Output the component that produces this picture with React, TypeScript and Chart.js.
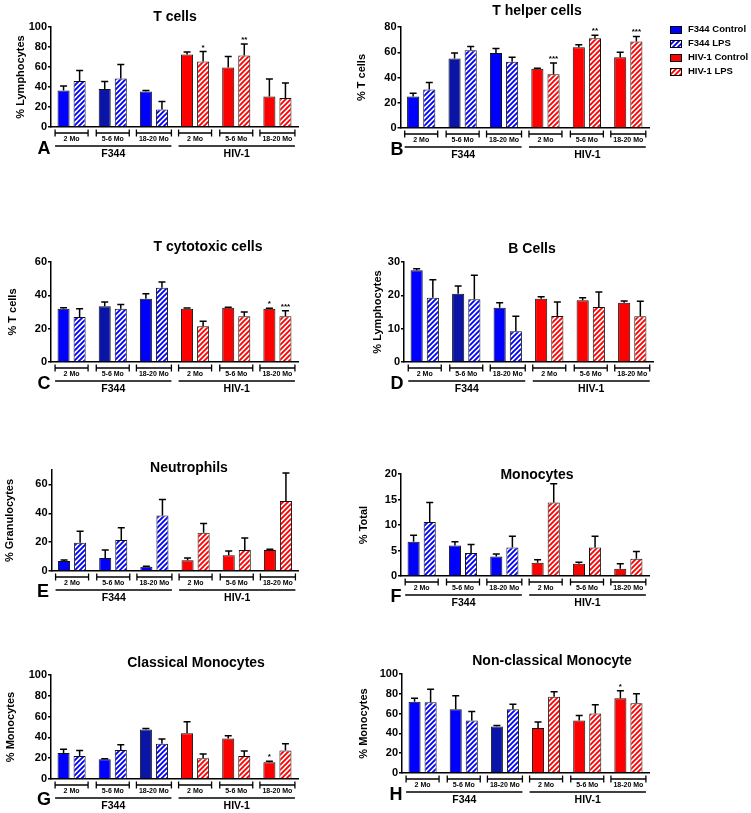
import React, { useEffect, useRef } from "react";
import { Chart, registerables } from "chart.js";

Chart.register(...registerables);

// ---------- shared categories ----------
const ageGroups = ["2 Mo", "5-6 Mo", "18-20 Mo", "2 Mo", "5-6 Mo", "18-20 Mo"];
const strains = ["F344", "HIV-1"];
const seriesNames = ["F344 Control", "F344 LPS", "HIV-1 Control", "HIV-1 LPS"];
const noSig = ["", "", "", "", "", ""];

// ---------- A: T cells (% Lymphocytes) ----------
const tCellControl = [36.5, 38, 35.5, 72.5, 59.5, 30.5];
const tCellControlSem = [4.5, 7.5, 1, 2.5, 11, 17.5];
const tCellLps = [46, 48.5, 17.5, 65.5, 71.5, 29];
const tCellLpsSem = [10.5, 14, 8, 10, 11.5, 15];
const tCellLpsSig = ["", "", "", "*", "**", ""];

// ---------- B: T helper cells (% T cells) ----------
const tHelperControl = [25, 55, 59.5, 47, 64, 56];
const tHelperControlSem = [2.5, 4.5, 3.5, 0.3, 2, 4];
const tHelperLps = [30.5, 61.5, 52.5, 42.5, 71, 68.5];
const tHelperLpsSem = [5.5, 3, 3.5, 9, 2.5, 4];
const tHelperLpsSig = ["", "", "", "***", "**", "***"];

// ---------- C: T cytotoxic cells (% T cells) ----------
const tCytoControl = [32, 33.5, 38, 32, 32.5, 32];
const tCytoControlSem = [0.6, 2.5, 3, 0.4, 0.4, 0.3];
const tCytoLps = [27, 32, 44.5, 21.5, 27.5, 27.5];
const tCytoLpsSem = [5, 2.5, 3.5, 3, 2.5, 3.2];
const tCytoControlSig = ["", "", "", "", "", "*"];
const tCytoLpsSig = ["", "", "", "", "", "***"];

// ---------- D: B cells (% Lymphocytes) ----------
const bCellControl = [27.5, 20.5, 16.3, 19, 18.5, 17.8];
const bCellControlSem = [0.5, 2.3, 1.5, 0.6, 0.8, 0.5];
const bCellLps = [19.3, 18.8, 9.2, 13.8, 16.5, 13.7];
const bCellLpsSem = [5.4, 7.2, 4.5, 4.2, 4.5, 4.5];

// ---------- E: Neutrophils (% Granulocytes) ----------
const neutroControl = [7, 9, 3, 7.5, 11, 14.5];
const neutroControlSem = [0.6, 5.5, 0.3, 1.5, 2.8, 0.6];
const neutroLps = [19.5, 21.5, 38.5, 26.5, 14.5, 48.5];
const neutroLpsSem = [8, 8.5, 11, 6.5, 8.3, 19.5];

// ---------- F: Monocytes (% Total) ----------
const monoControl = [6.7, 6, 3.8, 2.6, 2.4, 1.4];
const monoControlSem = [1.3, 0.7, 0.5, 0.6, 0.3, 1];
const monoLps = [10.6, 4.5, 5.6, 14.4, 5.6, 3.4];
const monoLpsSem = [3.8, 1.7, 2.2, 3.7, 2.2, 1.4];

// ---------- G: Classical Monocytes (% Monocytes) ----------
const classicalControl = [25, 19, 47.5, 44, 39, 16];
const classicalControlSem = [3.5, 0.5, 1, 11, 2.5, 1];
const classicalLps = [22, 28, 34, 20, 22, 27.5];
const classicalLpsSem = [5.5, 5, 4.5, 4, 5, 6.5];
const classicalControlSig = ["", "", "", "", "", "*"];

// ---------- H: Non-classical Monocyte (% Monocytes) ----------
const nonClassicalControl = [72, 64.5, 47, 45.5, 53, 75.5];
const nonClassicalControlSem = [3.5, 13.5, 1, 6, 5, 7.5];
const nonClassicalLps = [71.5, 53, 64.5, 77, 60, 70.5];
const nonClassicalLpsSem = [13, 9, 5, 5, 9, 9.5];
const nonClassicalControlSig = ["", "", "", "", "", "*"];

// ---------- styles ----------
const BLUE = "#0000ff";
const NAVY = "#0a14a6";
const RED = "#ff0000";
const FONT = "'Liberation Sans', Arial, Helvetica, sans-serif";
Chart.defaults.font.family = FONT;

type PanelDef = {
  letter: string;
  title: string;
  yTitle: string;
  control: number[];
  controlSem: number[];
  controlSig: string[];
  lps: number[];
  lpsSem: number[];
  lpsSig: string[];
  yMax: number;
  yStep: number;
  canvas: [number, number, number, number]; // x, y, w, h (page)
  area: [number, number, number, number]; // left, top, right, bottom (page)
  titlePos: [number, number];
  yTitleX: number;
  letterPos: [number, number];
  darkControl: number[];
  legend?: boolean;
};

const LEFT_CANVAS_X = 0;
const LEFT_CANVAS_W = 372;
const RIGHT_CANVAS_X = 340;
const RIGHT_CANVAS_W = 411;

const panels: PanelDef[] = [
  {
    letter: "A", title: "T cells", yTitle: "% Lymphocytes",
    control: tCellControl, controlSem: tCellControlSem, controlSig: noSig,
    lps: tCellLps, lpsSem: tCellLpsSem, lpsSig: tCellLpsSig,
    yMax: 100, yStep: 20,
    canvas: [LEFT_CANVAS_X, 0, LEFT_CANVAS_W, 170], area: [51, 27, 298, 127],
    titlePos: [175, 17], yTitleX: 21, letterPos: [44, 149], darkControl: [1],
  },
  {
    letter: "B", title: "T helper cells", yTitle: "% T cells",
    control: tHelperControl, controlSem: tHelperControlSem, controlSig: noSig,
    lps: tHelperLps, lpsSem: tHelperLpsSem, lpsSig: tHelperLpsSig,
    yMax: 80, yStep: 20,
    canvas: [RIGHT_CANVAS_X, 0, RIGHT_CANVAS_W, 170], area: [400.5, 27, 649, 128],
    titlePos: [537, 11], yTitleX: 362, letterPos: [397, 150], darkControl: [1],
    legend: true,
  },
  {
    letter: "C", title: "T cytotoxic cells", yTitle: "% T cells",
    control: tCytoControl, controlSem: tCytoControlSem, controlSig: tCytoControlSig,
    lps: tCytoLps, lpsSem: tCytoLpsSem, lpsSig: tCytoLpsSig,
    yMax: 60, yStep: 20,
    canvas: [LEFT_CANVAS_X, 225, LEFT_CANVAS_W, 180], area: [51, 262, 298, 362],
    titlePos: [208, 247], yTitleX: 13, letterPos: [44, 384], darkControl: [1],
  },
  {
    letter: "D", title: "B Cells", yTitle: "% Lymphocytes",
    control: bCellControl, controlSem: bCellControlSem, controlSig: noSig,
    lps: bCellLps, lpsSem: bCellLpsSem, lpsSig: noSig,
    yMax: 30, yStep: 10,
    canvas: [RIGHT_CANVAS_X, 225, RIGHT_CANVAS_W, 180], area: [404, 262, 653, 362],
    titlePos: [532, 249], yTitleX: 378, letterPos: [397, 384], darkControl: [1],
  },
  {
    letter: "E", title: "Neutrophils", yTitle: "% Granulocytes",
    control: neutroControl, controlSem: neutroControlSem, controlSig: noSig,
    lps: neutroLps, lpsSem: neutroLpsSem, lpsSig: noSig,
    yMax: 70, yStep: 20,
    canvas: [LEFT_CANVAS_X, 445, LEFT_CANVAS_W, 170], area: [51.5, 470, 298.5, 571],
    titlePos: [189, 468], yTitleX: 10, letterPos: [43, 592], darkControl: [],
  },
  {
    letter: "F", title: "Monocytes", yTitle: "% Total",
    control: monoControl, controlSem: monoControlSem, controlSig: noSig,
    lps: monoLps, lpsSem: monoLpsSem, lpsSig: noSig,
    yMax: 20, yStep: 5,
    canvas: [RIGHT_CANVAS_X, 445, RIGHT_CANVAS_W, 170], area: [401, 474, 649, 576],
    titlePos: [537, 475], yTitleX: 364, letterPos: [396, 597], darkControl: [],
  },
  {
    letter: "G", title: "Classical Monocytes", yTitle: "% Monocytes",
    control: classicalControl, controlSem: classicalControlSem, controlSig: classicalControlSig,
    lps: classicalLps, lpsSem: classicalLpsSem, lpsSig: noSig,
    yMax: 100, yStep: 20,
    canvas: [LEFT_CANVAS_X, 640, LEFT_CANVAS_W, 173], area: [51, 675, 298, 779],
    titlePos: [196, 663], yTitleX: 11, letterPos: [44, 800], darkControl: [2],
  },
  {
    letter: "H", title: "Non-classical Monocyte", yTitle: "% Monocytes",
    control: nonClassicalControl, controlSem: nonClassicalControlSem, controlSig: nonClassicalControlSig,
    lps: nonClassicalLps, lpsSem: nonClassicalLpsSem, lpsSig: noSig,
    yMax: 100, yStep: 20,
    canvas: [RIGHT_CANVAS_X, 640, RIGHT_CANVAS_W, 173], area: [402, 674, 649, 773],
    titlePos: [552, 661], yTitleX: 364, letterPos: [396, 795], darkControl: [2],
  },
];

function makeHatch(target: CanvasRenderingContext2D, color: string): CanvasPattern {
  const s = 5;
  const tile = document.createElement("canvas");
  tile.width = s;
  tile.height = s;
  const g = tile.getContext("2d")!;
  g.fillStyle = "#ffffff";
  g.fillRect(0, 0, s, s);
  g.strokeStyle = color;
  g.lineWidth = 1.9;
  g.beginPath();
  g.moveTo(0, s);
  g.lineTo(s, 0);
  g.moveTo(-1, 1);
  g.lineTo(1, -1);
  g.moveTo(s - 1, s + 1);
  g.lineTo(s + 1, s - 1);
  g.stroke();
  return target.createPattern(tile, "repeat")!;
}

function Panel({ def }: { def: PanelDef }) {
  const ref = useRef<HTMLCanvasElement>(null);

  useEffect(() => {
    const canvas = ref.current!;
    const ctx0 = canvas.getContext("2d")!;
    const bluePat = makeHatch(ctx0, BLUE);
    const redPat = makeHatch(ctx0, RED);
    const [cx, cy, cw, ch] = def.canvas;
    const [aL, aT, aR, aB] = def.area;
    const Y_AXIS_W = 40;

    const controlColors = def.control.map((_, i) =>
      i < 3 ? (def.darkControl.includes(i) ? NAVY : BLUE) : RED
    );
    const lpsColors = def.lps.map((_, i) => (i < 3 ? bluePat : redPat));

    const decor = {
      id: "panelDecor",
      afterDatasetsDraw(chart: any) {
        const ctx: CanvasRenderingContext2D = chart.ctx;
        const ys = chart.scales.y;
        chart.data.datasets.forEach((ds: any, di: number) => {
          const meta = chart.getDatasetMeta(di);
          meta.data.forEach((bar: any, i: number) => {
            const v = ds.data[i];
            const top = ys.getPixelForValue(v + ds.sem[i]);
            ctx.save();
            ctx.strokeStyle = "#000";
            ctx.lineWidth = 1.5;
            ctx.beginPath();
            ctx.moveTo(bar.x, bar.y);
            ctx.lineTo(bar.x, top);
            ctx.moveTo(bar.x - 3.5, top);
            ctx.lineTo(bar.x + 3.5, top);
            ctx.stroke();
            const sig = ds.sig[i];
            if (sig) {
              ctx.fillStyle = "#000";
              ctx.font = `bold 8px ${FONT}`;
              ctx.textAlign = "center";
              ctx.textBaseline = "alphabetic";
              ctx.fillText(sig, bar.x, top - 2);
            }
            ctx.restore();
          });
        });
      },
      afterDraw(chart: any) {
        const ctx: CanvasRenderingContext2D = chart.ctx;
        const xs = chart.scales.x;
        const bottom = chart.chartArea.bottom;
        ctx.save();
        ctx.fillStyle = "#000";
        ctx.strokeStyle = "#000";

        // title
        ctx.font = `bold 14px ${FONT}`;
        ctx.textAlign = "center";
        ctx.textBaseline = "middle";
        ctx.fillText(def.title, def.titlePos[0] - cx, def.titlePos[1] - cy);

        // y title
        ctx.save();
        ctx.translate(def.yTitleX - cx, (chart.chartArea.top + bottom) / 2);
        ctx.rotate(-Math.PI / 2);
        ctx.font = `bold 11px ${FONT}`;
        ctx.fillText(def.yTitle, 0, 0);
        ctx.restore();

        // age brackets
        const hws: number[] = [];
        ageGroups.forEach((lab, i) => {
          const px = xs.getPixelForValue(i);
          const hw = lab.length > 6 ? 17.5 : 16.5;
          hws.push(hw);
          const yb = bottom + 6;
          ctx.lineWidth = 1.3;
          ctx.beginPath();
          ctx.moveTo(px - hw, yb);
          ctx.lineTo(px + hw, yb);
          ctx.moveTo(px - hw, yb - 3.5);
          ctx.lineTo(px - hw, yb + 3.5);
          ctx.moveTo(px + hw, yb - 3.5);
          ctx.lineTo(px + hw, yb + 3.5);
          ctx.stroke();
          ctx.font = `bold 7px ${FONT}`;
          ctx.textBaseline = "middle";
          ctx.fillText(lab, px, bottom + 12.5);
        });

        // strain lines
        strains.forEach((name, s) => {
          const x1 = xs.getPixelForValue(s * 3) - hws[s * 3];
          const x2 = xs.getPixelForValue(s * 3 + 2) + hws[s * 3 + 2];
          ctx.lineWidth = 1.5;
          ctx.beginPath();
          ctx.moveTo(x1, bottom + 19);
          ctx.lineTo(x2, bottom + 19);
          ctx.stroke();
          ctx.font = `bold 10.5px ${FONT}`;
          ctx.fillText(name, (x1 + x2) / 2, bottom + 27);
        });

        // panel letter
        ctx.font = `bold 18px ${FONT}`;
        ctx.textBaseline = "middle";
        ctx.fillText(def.letter, def.letterPos[0] - cx, def.letterPos[1] - cy);

        // legend
        if (def.legend) {
          const fills: (string | CanvasPattern)[] = [BLUE, bluePat, RED, redPat];
          seriesNames.forEach((name, k) => {
            const ty = 29 + k * 14 - cy;
            ctx.fillStyle = fills[k] as any;
            ctx.fillRect(670 - cx, ty - 3, 12, 8);
            ctx.lineWidth = 1;
            ctx.strokeStyle = "#000";
            ctx.strokeRect(670.5 - cx, ty - 2.5, 11, 7);
            ctx.fillStyle = "#000";
            ctx.font = `bold 9.5px ${FONT}`;
            ctx.textAlign = "left";
            ctx.textBaseline = "middle";
            ctx.fillText(name, 688 - cx, ty);
          });
        }
        ctx.restore();
      },
    };

    const chart = new Chart(canvas, {
      type: "bar",
      data: {
        labels: ageGroups.map((a, i) => `${strains[Math.floor(i / 3)]} ${a}`),
        datasets: [
          {
            label: "Control",
            data: def.control,
            sem: def.controlSem,
            sig: def.controlSig,
            backgroundColor: controlColors,
            borderColor: "#111",
            borderWidth: 1,
            borderSkipped: "bottom",
            categoryPercentage: 0.78,
            barPercentage: 0.75,
          } as any,
          {
            label: "LPS",
            data: def.lps,
            sem: def.lpsSem,
            sig: def.lpsSig,
            backgroundColor: lpsColors,
            borderColor: "#111",
            borderWidth: 1,
            borderSkipped: "bottom",
            categoryPercentage: 0.78,
            barPercentage: 0.75,
          } as any,
        ],
      },
      options: {
        responsive: false,
        animation: false,
        devicePixelRatio: 1,
        events: [],
        layout: {
          padding: {
            left: aL - cx - Y_AXIS_W,
            right: cx + cw - aR,
            top: aT - cy,
            bottom: cy + ch - aB,
          },
        },
        plugins: {
          legend: { display: false },
          title: { display: false },
          tooltip: { enabled: false },
        },
        scales: {
          x: {
            type: "category",
            offset: true,
            grid: { display: false },
            ticks: { display: false },
            border: { display: true, color: "#000", width: 1.5 },
            afterFit: (s: any) => {
              s.height = 0;
            },
          },
          y: {
            min: 0,
            max: def.yMax,
            ticks: {
              stepSize: def.yStep,
              color: "#000",
              padding: 1,
              font: { family: FONT, size: 11, weight: "bold" },
              callback: (v: any) => (Number(v) % def.yStep === 0 ? String(v) : null),
            },
            grid: {
              display: true,
              drawOnChartArea: false,
              drawTicks: true,
              tickLength: 3,
              color: "#000",
              lineWidth: 1.5,
            },
            border: { display: true, color: "#000", width: 1.5 },
            afterFit: (s: any) => {
              s.width = Y_AXIS_W;
            },
          },
        },
      } as any,
      plugins: [decor],
    });
    return () => chart.destroy();
  }, [def]);

  const [x, y, w, h] = def.canvas;
  return (
    <canvas
      ref={ref}
      width={w}
      height={h}
      style={{ position: "absolute", left: x, top: y, width: w, height: h }}
    />
  );
}

export default function App() {
  return (
    <div
      style={{
        position: "absolute",
        left: 0,
        top: 0,
        width: 751,
        height: 813,
        background: "#ffffff",
        overflow: "hidden",
      }}
    >
      {panels.map((p) => (
        <Panel key={p.letter} def={p} />
      ))}
    </div>
  );
}
